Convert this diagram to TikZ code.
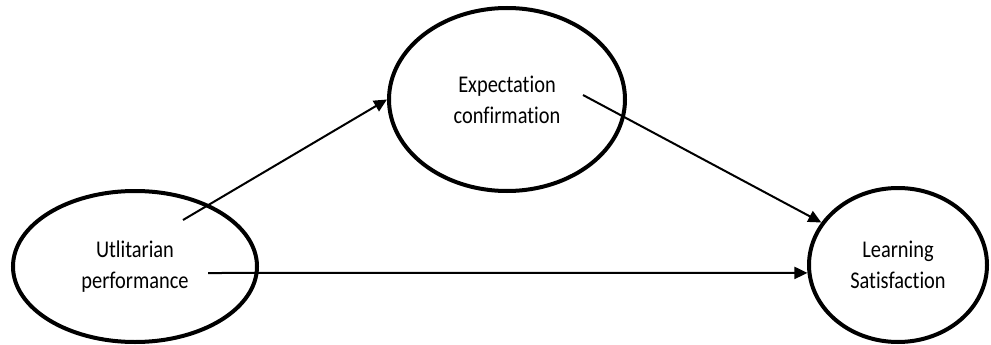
\documentclass[tikz,border=0pt]{standalone}
\usepackage{fontspec}
\setmainfont{Carlito}[FakeStretch=0.85,Ligatures=CommonOff]
\usetikzlibrary{shapes.geometric,arrows.meta}
\begin{document}
\begin{tikzpicture}[x=1pt,y=-1pt,
  construct/.style={draw=black,line width=4pt,ellipse,inner sep=0pt,align=center,
    font=\fontsize{24}{31}\selectfont},
  link/.style={line width=2pt,-{Triangle[length=13pt,width=12pt]}}]
\useasboundingbox (0,0) rectangle (991,345);
\node[construct,minimum width=244pt,minimum height=151pt] (u) at (135,266.5) {Utlitarian\\performance};
\node[construct,minimum width=236pt,minimum height=183pt] (e) at (507,99.5) {Expectation\\confirmation};
\node[construct,minimum width=178pt,minimum height=154pt] (l) at (898,265) {Learning\\Satisfaction};
\coordinate (s1) at (183,220);
\coordinate (s2) at (583,95);
\coordinate (s3) at (208,273);
\draw[link] (s1) -- (e.west);
\draw[link] (s2) -- (l.151);
\draw[link] (s3) -- (l.185);
\end{tikzpicture}
\end{document}
